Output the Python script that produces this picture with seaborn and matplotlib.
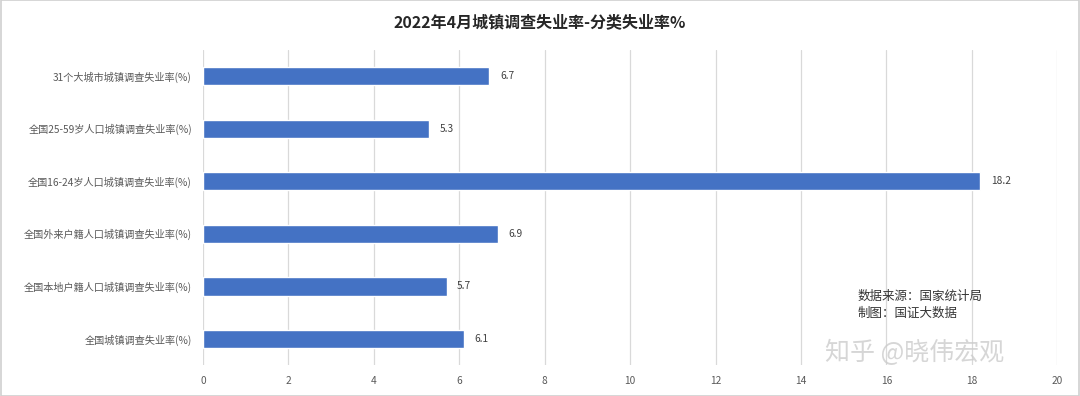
import seaborn as sns
import pandas as pd
import matplotlib.pyplot as plt

categories = [
    "31个大城市城镇调查失业率(%)",
    "全国25-59岁人口城镇调查失业率(%)",
    "全国16-24岁人口城镇调查失业率(%)",
    "全国外来户籍人口城镇调查失业率(%)",
    "全国本地户籍人口城镇调查失业率(%)",
    "全国城镇调查失业率(%)",
]
values = [6.7, 5.3, 18.2, 6.9, 5.7, 6.1]
x_ticks = [0, 2, 4, 6, 8, 10, 12, 14, 16, 18, 20]

df = pd.DataFrame({"类别": categories, "失业率": values})

sns.set_theme(style="white")
plt.rcParams["font.family"] = ["Noto Sans CJK SC", "DejaVu Sans"]

fig = plt.figure(figsize=(10.8, 3.96), dpi=100)
ax = fig.add_axes([0.188, 0.078, 0.791, 0.796])

ax.set_axisbelow(True)
ax.grid(axis="x", color="#d9d9d9", linewidth=0.9)
sns.barplot(data=df, x="失业率", y="类别", orient="h", color="#4472c4",
            saturation=1, width=0.35, ax=ax)

for i, v in enumerate(values):
    ax.text(v + 0.25, i, f"{v}", va="center", ha="left", fontsize=7.3, color="#404040")

ax.set_xlim(0, 20)
ax.set_xticks(x_ticks)
ax.set_xlabel("")
ax.set_ylabel("")
ax.tick_params(axis="x", labelsize=7.3, colors="#595959", length=0, pad=8)
ax.tick_params(axis="y", labelsize=7.3, colors="#595959", length=0, pad=8)
for s in ax.spines.values():
    s.set_visible(False)

fig.text(0.5, 0.945, "2022年4月城镇调查失业率-分类失业率%", ha="center", va="center",
         fontsize=11.5, fontweight="bold", color="#262626")
fig.text(0.794, 0.23, "数据来源：国家统计局\n制图：国证大数据", ha="left", va="center",
         fontsize=9, color="#333333", linespacing=1.45)
fig.text(0.847, 0.109, "知乎 @晓伟宏观", ha="center", va="center",
         fontsize=18, color="#cccccc", alpha=0.8)

border = plt.Rectangle((0.001, 0.001), 0.998, 0.998, transform=fig.transFigure,
                       fill=False, edgecolor="#d0d0d0", linewidth=1.2)
fig.patches.append(border)

fig.savefig("out.png", dpi=100)
